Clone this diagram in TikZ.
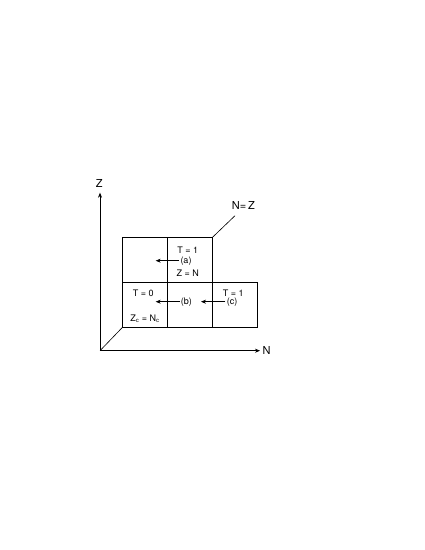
\documentclass[tikz,border=0pt]{standalone}
\usepackage{fontspec}
\setmainfont{TeX Gyre Heros}
\usepackage{tikz}
\usetikzlibrary{arrows.meta,positioning}

\tikzset{
  cell/.style={draw, minimum size=45pt, inner sep=0pt, outer sep=0pt},
  lbl/.style={font=\fontsize{9}{10}\selectfont, inner sep=1pt},
  axlbl/.style={font=\fontsize{11}{13}\selectfont, inner sep=1pt},
  move/.style={-{Stealth[length=5pt,width=4pt]}}
}

\begin{document}
\begin{tikzpicture}[x=1pt, y=1pt, line width=0.6pt]
\useasboundingbox (0,0) rectangle (425,550);

% Axes
\coordinate (O) at (100,199.3);
\coordinate (ztip) at (100,357.3);
\coordinate (ntip) at (260,199.3);
\draw[move] (O) -- (ztip);
\draw[move] (O) -- (ntip);
\node[axlbl] (zlbl) at (99.3,366.7) {Z};
\node[axlbl] (nlbl) at (266.7,199.3) {N};

% Cells
\node[cell] (bl) at (145,245.2) {};
\node[cell, right=0pt of bl] (bm) {};
\node[cell, right=0pt of bm] (br) {};
\node[cell, above=0pt of bl] (tl) {};
\node[cell, above=0pt of bm] (tm) {};

% Depth lines
\draw (O) -- (bl.south west);
\coordinate (nzend) at (235,334.3);
\draw (tm.north east) -- (nzend);
\node[axlbl] (nz) at (243.3,344.3) {N=\,Z};

% Upper cell
\node[lbl] (t1a) at (187.7,300) {T = 1};
\node[lbl] (a) at (186,289.3) {(a)};
\coordinate (aend) at (155.7,289.3);
\draw[move] (a.west) -- (aend);
\node[lbl] (zn) at (187.7,276.7) {Z = N};

% Lower cells
\node[lbl] (t0) at (143.3,256.7) {T = 0};
\node[lbl] (zc) at (145,231.7) {Z\textsubscript{c} = N\textsubscript{c}};
\node[lbl] (b) at (186.3,248.3) {(b)};
\coordinate (bend) at (155.7,248.3);
\draw[move] (b.west) -- (bend);
\node[lbl] (t1c) at (233.3,256.7) {T = 1};
\node[lbl] (c) at (232,248.3) {(c)};
\coordinate (cend) at (201,248.3);
\draw[move] (c.west) -- (cend);
\end{tikzpicture}
\end{document}
